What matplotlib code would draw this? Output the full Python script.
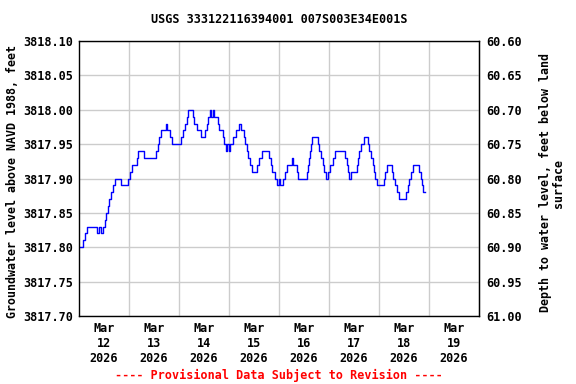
import datetime as dt

import matplotlib

matplotlib.use("Agg")
import matplotlib.pyplot as plt

# Step breakpoints: hours after 2026-03-12 00:00 and water level (ft, NAVD 1988)
hours = [0.0, 1.8, 2.9, 4.0, 8.5, 9.7, 10.4, 11.7, 12.5, 13.0, 13.8, 14.6, 15.5,
         16.3, 17.3, 20.0, 23.4, 24.6, 25.4, 27.7, 28.5, 31.4, 37.0, 37.8, 38.6,
         39.5, 41.6, 42.4, 43.7, 44.5, 48.8, 49.8, 51.0, 52.0, 52.5, 54.6, 55.4,
         56.5, 58.7, 60.6, 61.3, 61.9, 62.7, 63.2, 64.2, 64.8, 66.6, 67.2, 69.0,
         69.8, 70.6, 71.2, 71.9, 72.5, 74.1, 75.4, 76.9, 77.6, 79.2, 79.8, 80.5,
         81.3, 82.1, 82.9, 85.3, 86.5, 87.7, 91.3, 92.0, 92.6, 94.1, 94.9, 95.8,
         96.3, 98.1, 98.9, 99.7, 102.4, 102.9, 104.5, 105.3, 109.3, 109.8, 110.2,
         110.9, 111.4, 112.0, 114.7, 115.4, 116.2, 117.0, 117.7, 118.7, 119.5,
         120.5, 122.1, 122.9, 127.8, 128.5, 129.1, 129.8, 130.7, 133.3, 133.9,
         134.6, 135.5, 136.8, 138.6, 139.4, 140.2, 141.0, 141.6, 142.2, 143.0,
         146.2, 147.0, 147.8, 150.1, 150.9, 151.8, 152.6, 153.8, 157.0, 157.8,
         158.4, 159.2, 160.2, 163.4, 164.0, 164.6, 165.1, 165.9]
levels = [3817.80, 3817.81, 3817.82, 3817.83, 3817.82, 3817.83, 3817.82, 3817.83,
          3817.84, 3817.85, 3817.86, 3817.87, 3817.88, 3817.89, 3817.90, 3817.89,
          3817.90, 3817.91, 3817.92, 3817.93, 3817.94, 3817.93, 3817.94, 3817.95,
          3817.96, 3817.97, 3817.98, 3817.97, 3817.96, 3817.95, 3817.96, 3817.97,
          3817.98, 3817.99, 3818.00, 3817.99, 3817.98, 3817.97, 3817.96, 3817.97,
          3817.98, 3817.99, 3818.00, 3817.99, 3818.00, 3817.99, 3817.98, 3817.97,
          3817.96, 3817.95, 3817.94, 3817.95, 3817.94, 3817.95, 3817.96, 3817.97,
          3817.98, 3817.97, 3817.96, 3817.95, 3817.94, 3817.93, 3817.92, 3817.91,
          3817.92, 3817.93, 3817.94, 3817.93, 3817.92, 3817.91, 3817.90, 3817.89,
          3817.90, 3817.89, 3817.90, 3817.91, 3817.92, 3817.93, 3817.92, 3817.91,
          3817.90, 3817.91, 3817.92, 3817.93, 3817.94, 3817.95, 3817.96, 3817.95,
          3817.94, 3817.93, 3817.92, 3817.91, 3817.90, 3817.91, 3817.92, 3817.93,
          3817.94, 3817.93, 3817.92, 3817.91, 3817.90, 3817.91, 3817.92, 3817.93,
          3817.94, 3817.95, 3817.96, 3817.95, 3817.94, 3817.93, 3817.92, 3817.91,
          3817.90, 3817.89, 3817.90, 3817.91, 3817.92, 3817.91, 3817.90, 3817.89,
          3817.88, 3817.87, 3817.88, 3817.89, 3817.90, 3817.91, 3817.92, 3817.91,
          3817.90, 3817.89, 3817.88, 3817.88]

start = dt.datetime(2026, 3, 12)
n_days = 8
left_ticks = [3817.70, 3817.75, 3817.80, 3817.85, 3817.90, 3817.95, 3818.00,
              3818.05, 3818.10]
land_surface = 3878.70  # depth = land_surface - elevation

title = "USGS 333122116394001 007S003E34E001S"
left_label = "Groundwater level above NAVD 1988, feet"
right_label = "Depth to water level, feet below land\nsurface"
footer = "---- Provisional Data Subject to Revision ----"

mono = "DejaVu Sans Mono"
fs = 8.5

fig = plt.figure(figsize=(5.76, 3.84), dpi=100)
ax = fig.add_axes([79 / 576, 1 - 316 / 384, 400 / 576, 275 / 384])

times = [start + dt.timedelta(hours=h) for h in hours]
ax.plot(times, levels, color="#0000ff", lw=1.0, drawstyle="steps-post")

ax.set_xlim(start, start + dt.timedelta(days=n_days))
ax.set_ylim(left_ticks[0], left_ticks[-1])

noon = [start + dt.timedelta(days=d, hours=12) for d in range(n_days)]
midnight = [start + dt.timedelta(days=d) for d in range(1, n_days)]
ax.set_xticks(noon)
ax.set_xticklabels([d.strftime("%b\n%d\n%Y") for d in noon])
ax.set_xticks(midnight, minor=True)
ax.set_yticks(left_ticks)
ax.set_yticklabels([f"{v:.2f}" for v in left_ticks])

ax.grid(False)
ax.grid(True, which="minor", axis="x", color="#cccccc", lw=1)
ax.grid(True, which="major", axis="y", color="#cccccc", lw=1)
ax.tick_params(which="both", length=0, pad=4)
for lab in ax.get_xticklabels() + ax.get_yticklabels():
    lab.set_family(mono)
    lab.set_weight("bold")
    lab.set_fontsize(fs)
for sp in ax.spines.values():
    sp.set_linewidth(1.0)

sec = ax.secondary_yaxis("right", functions=(lambda v: land_surface - v,
                                             lambda d: land_surface - d))
right_ticks = [land_surface - v for v in left_ticks]
sec.set_yticks(right_ticks)
sec.set_yticklabels([f"{v:.2f}" for v in right_ticks])
sec.tick_params(length=0, pad=5)
for lab in sec.get_yticklabels():
    lab.set_family(mono)
    lab.set_weight("bold")
    lab.set_fontsize(fs)

# axis titles placed directly to match the reference layout
fig.text(13 / 576, 1 - 181 / 384, left_label, rotation=90, ha="center",
         va="center", family=mono, weight="bold", fontsize=8.4)
fig.text(552 / 576, 1 - 183 / 384, right_label, rotation=90, ha="center",
         va="center", multialignment="center", linespacing=1.0, family=mono,
         weight="bold", fontsize=8.4)
fig.text(0.485, 0.95, title, ha="center", va="center", family=mono,
         weight="bold", fontsize=fs)
fig.text(0.485, 0.022, footer, ha="center", va="center", family=mono,
         weight="bold", fontsize=fs, color="red")

fig.savefig("out.png", dpi=100)
